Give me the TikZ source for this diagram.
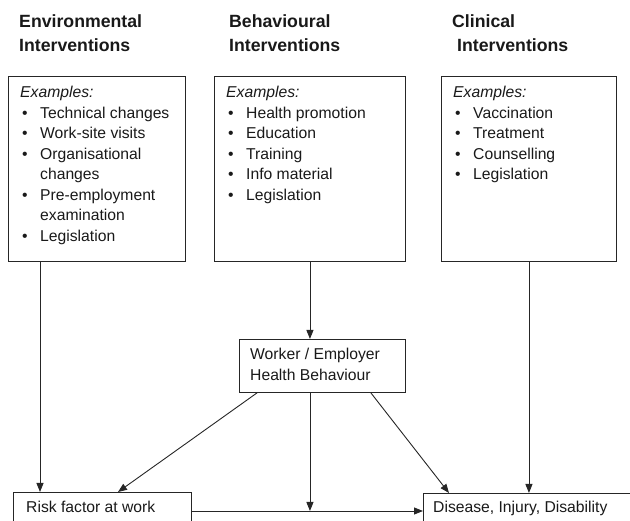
\documentclass[tikz,border=0pt]{standalone}
\usepackage{fontspec}
\setmainfont{Liberation Sans}
\usetikzlibrary{arrows.meta}
\newcommand{\itm}[1]{\hspace*{2pt}\makebox[18pt][l]{\textbullet}#1}
\begin{document}
\begin{tikzpicture}[x=1pt,y=-1pt,
  boxst/.style={draw=black!85, line width=0.9pt, inner sep=0pt, anchor=north west},
  arr/.style={draw=black!85, line width=0.9pt, -{Triangle[length=9pt,width=7pt]}},
  hdr/.style={anchor=base west, inner sep=0pt, font=\fontsize{17.7}{24}\selectfont\bfseries, text=black!90},
  txt/.style={anchor=base west, inner sep=0pt, font=\fontsize{15.7}{20.5}\selectfont, text=black!90}]
\clip (0,0) rectangle (630,521);

% headers
\node[hdr] (h1) at (19,28) {\parbox[t]{200pt}{Environmental\\Interventions}};
\node[hdr] (h2) at (229,28) {\parbox[t]{200pt}{Behavioural\\Interventions}};
\node[hdr] (h3) at (452,28) {\parbox[t]{200pt}{Clinical\\\hspace*{5pt}Interventions}};

% example boxes
\node[boxst, minimum width=177pt, minimum height=185pt] (b1) at (8,76) {};
\node[boxst, minimum width=191pt, minimum height=185pt] (b2) at (214,76) {};
\node[boxst, minimum width=175pt, minimum height=185pt] (b3) at (441,76) {};

\node[txt] (t1) at (20,98) {\parbox[t]{170pt}{\textit{Examples:}\\
\itm{Technical changes}\\
\itm{Work-site visits}\\
\itm{Organisational}\\
\hspace*{20pt}changes\\
\itm{Pre-employment}\\
\hspace*{20pt}examination\\
\itm{Legislation}}};
\node[txt] (t2) at (226,98) {\parbox[t]{180pt}{\textit{Examples:}\\
\itm{Health promotion}\\
\itm{Education}\\
\itm{Training}\\
\itm{Info material}\\
\itm{Legislation}}};
\node[txt] (t3) at (453,98) {\parbox[t]{170pt}{\textit{Examples:}\\
\itm{Vaccination}\\
\itm{Treatment}\\
\itm{Counselling}\\
\itm{Legislation}}};

% middle box
\node[boxst, minimum width=166pt, minimum height=53pt] (mid) at (239,339) {};
\node[txt] (tm) at (250,360) {\parbox[t]{160pt}{Worker / Employer\\Health Behaviour}};

% bottom boxes
\node[boxst, minimum width=178pt, minimum height=50pt] (risk) at (13,492) {};
\node[txt] (tr) at (26,513) {Risk factor at work};
\node[boxst, minimum width=230pt, minimum height=50pt] (dis) at (423,493) {};
\node[txt] (td) at (433,513) {Disease, Injury, Disability};

% connectors
\draw[arr] ([xshift=32pt]b1.south west) -- ([xshift=27pt]risk.north west);
\draw[arr] (b2.south) -- (b2.south |- mid.north);
\draw[arr] (b3.south) -- (b3.south |- dis.north);
\coordinate (hl) at ([yshift=-19pt]risk.north east);
\coordinate (hr) at ([yshift=-18pt]dis.north west);
\draw[arr] (hl) -- (hr);
\draw[arr] ([xshift=18pt]mid.south west) -- ([xshift=105pt]risk.north west);
\draw[arr] (b2.south |- mid.south) -- (b2.south |- hl);
\draw[arr] ([xshift=-35pt]mid.south east) -- ([xshift=26pt]dis.north west);
\end{tikzpicture}
\end{document}
